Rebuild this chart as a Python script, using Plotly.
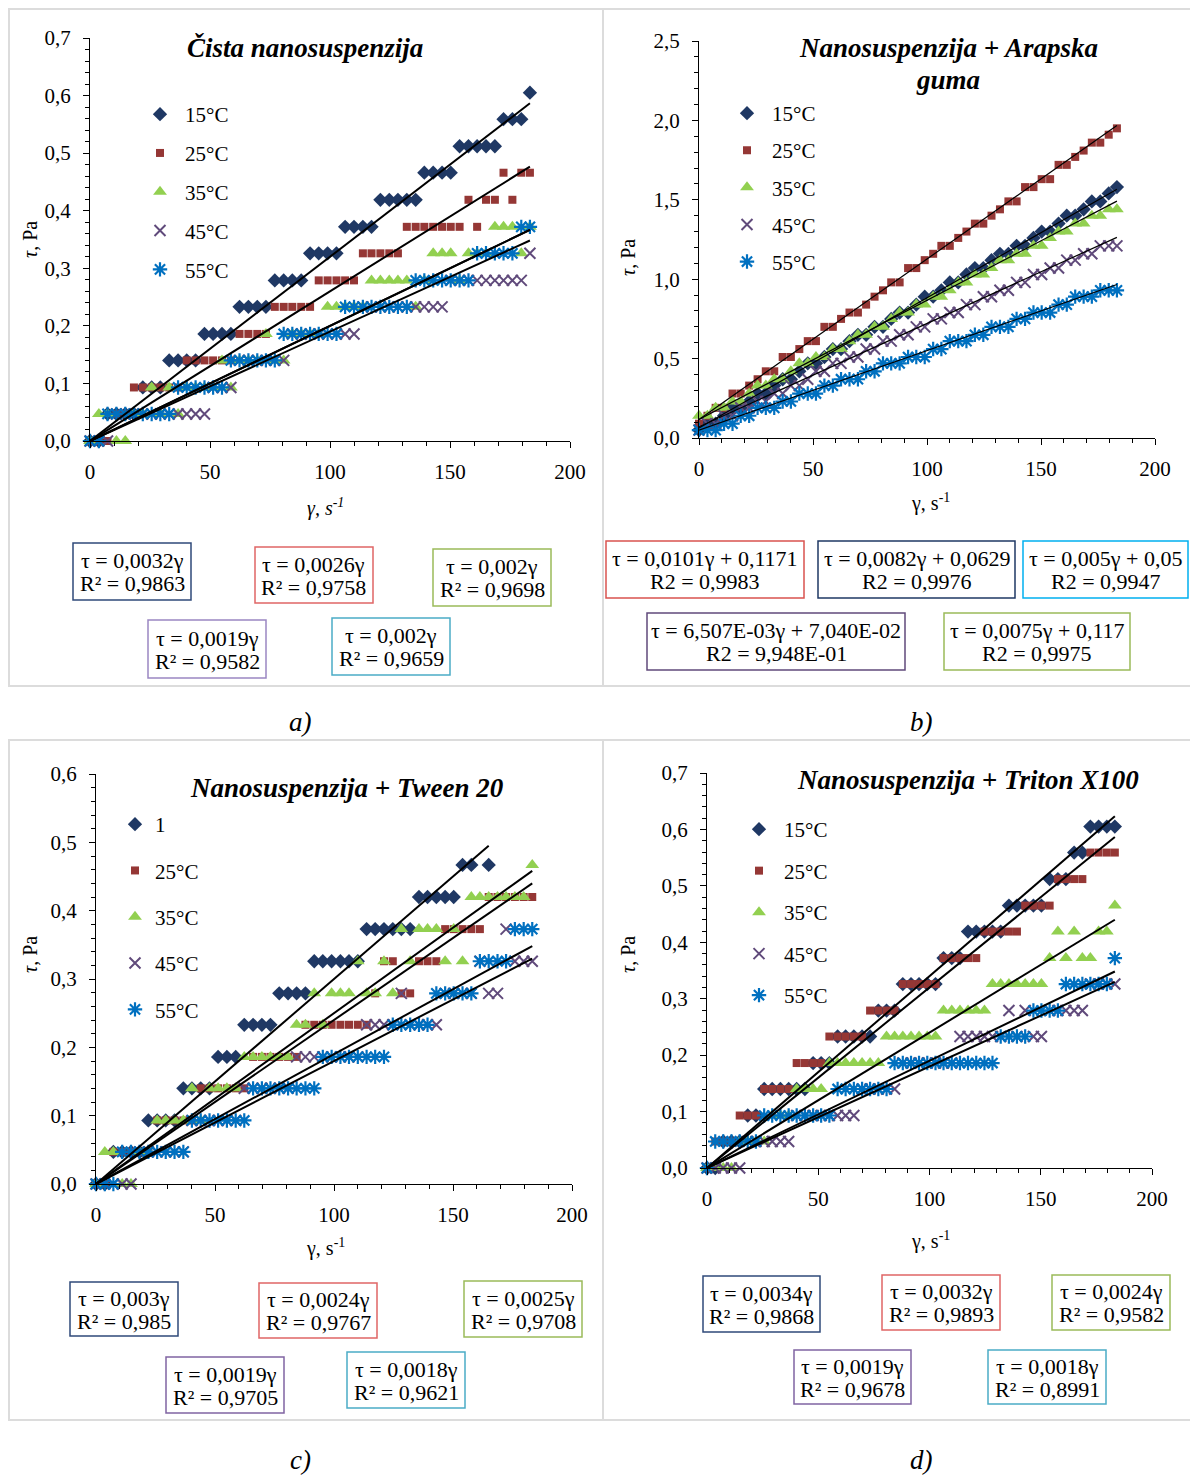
import plotly.graph_objects as go

# the page puts the figure 8px in from the top-left corner
OFF = 8
W, H = 1198 - OFF, 1475 - OFF
FONT = "Liberation Serif"

# shear rate steps, s^-1 (shared by all measurements)
gamma = [0, 3.7, 7.3, 11.0, 14.7, 18.3, 22.0, 25.7, 29.3, 33.0,
         36.7, 40.3, 44.0, 47.7, 51.3, 55.0, 58.7, 62.3, 66.0, 69.7,
         73.3, 77.0, 80.7, 84.3, 88.0, 91.7, 95.3, 99.0, 102.7, 106.3,
         110.0, 113.7, 117.3, 121.0, 124.7, 128.3, 132.0, 135.7, 139.3, 143.0,
         146.7, 150.3, 154.0, 157.7, 161.3, 165.0, 168.7, 172.3, 176.0, 179.7,
         183.3]

temps = ["15°C", "25°C", "35°C", "45°C", "55°C"]

# ---- a) Cista nanosuspenzija, tau in Pa
a_15 = [0, 0, .047, .047, .047, .047, .093, .093, .093, .14,
        .14, .14, .14, .186, .186, .186, .186, .233, .233, .233,
        .233, .279, .279, .279, .279, .326, .326, .326, .326, .372,
        .372, .372, .372, .419, .419, .419, .419, .419, .466, .466,
        .466, .466, .512, .512, .512, .512, .512, .559, .559, .559,
        .605]
a_25 = [0, 0, 0, .047, .047, .093, .093, .093, .093, .093,
        .093, .14, .14, .14, .14, .14, .14, .186, .186, .186,
        .186, .233, .233, .233, .233, .233, .279, .279, .279, .279,
        .279, .326, .326, .326, .326, .326, .372, .372, .372, .372,
        .372, .372, .372, .419, .372, .419, .419, .466, .419, .466,
        .466]
a_35 = [0, .047, .047, 0, 0, .047, .047, .093, .047, .093,
        .047, .093, .093, .093, .093, .14, .093, .14, .14, .14,
        .186, .14, .14, .186, .186, .186, .186, .233, .233, .233,
        .233, .233, .279, .279, .279, .279, .279, .233, .279, .326,
        .326, .326, .279, .326, .326, .326, .372, .372, .372, .326,
        .372]
a_45 = [0, 0, 0, .047, .047, .047, .047, .047, .047, .047,
        .047, .047, .047, .047, .093, .093, .093, .14, .14, .14,
        .14, .14, .14, .186, .186, .186, .186, .186, .186, .186,
        .186, .233, .233, .233, .233, .233, .233, .233, .233, .233,
        .233, .279, .279, .279, .279, .279, .279, .279, .279, .279,
        .326]
a_55 = [0, 0, .047, .047, .047, .047, .047, .047, .047, .047,
        .093, .093, .093, .093, .093, .093, .14, .14, .14, .14,
        .14, .14, .186, .186, .186, .186, .186, .186, .186, .233,
        .233, .233, .233, .233, .233, .233, .233, .279, .279, .279,
        .279, .279, .279, .279, .326, .326, .326, .326, .326, .372,
        .372]
a_slope = [0.0032, 0.0026, 0.002, 0.0019, 0.002]
a_icpt = [0, 0, 0, 0, 0]
a_eq = [("τ = 0,0032γ", "R² = 0,9863"), ("τ = 0,0026γ", "R² = 0,9758"),
        ("τ = 0,002γ", "R² = 0,9698"), ("τ = 0,0019γ", "R² = 0,9582"),
        ("τ = 0,002γ", "R² = 0,9659")]

# ---- b) Nanosuspenzija + Arapska guma
b_15 = [0.05, 0.09, 0.09, 0.14, 0.19, 0.19, 0.23, 0.28, 0.28, 0.33,
        0.37, 0.37, 0.42, 0.47, 0.47, 0.51, 0.56, 0.56, 0.61, 0.65,
        0.65, 0.70, 0.70, 0.75, 0.79, 0.79, 0.84, 0.89, 0.89, 0.93,
        0.98, 0.98, 1.03, 1.07, 1.07, 1.12, 1.16, 1.16, 1.21, 1.21,
        1.26, 1.30, 1.30, 1.35, 1.40, 1.40, 1.44, 1.49, 1.49, 1.54,
        1.58]
b_25 = [0.09, 0.14, 0.19, 0.19, 0.28, 0.28, 0.33, 0.37, 0.42, 0.42,
        0.51, 0.51, 0.56, 0.61, 0.61, 0.70, 0.70, 0.75, 0.79, 0.79,
        0.84, 0.89, 0.93, 0.98, 0.98, 1.07, 1.07, 1.12, 1.16, 1.21,
        1.21, 1.26, 1.30, 1.35, 1.35, 1.40, 1.44, 1.49, 1.49, 1.58,
        1.58, 1.63, 1.63, 1.72, 1.72, 1.77, 1.81, 1.86, 1.86, 1.91,
        1.95]
b_35 = [0.14, 0.14, 0.19, 0.19, 0.23, 0.23, 0.28, 0.33, 0.33, 0.37,
        0.37, 0.42, 0.47, 0.47, 0.51, 0.51, 0.56, 0.56, 0.61, 0.65,
        0.65, 0.70, 0.70, 0.75, 0.79, 0.79, 0.84, 0.84, 0.89, 0.89,
        0.93, 0.98, 0.98, 1.03, 1.03, 1.07, 1.12, 1.12, 1.16, 1.16,
        1.21, 1.21, 1.26, 1.30, 1.30, 1.35, 1.35, 1.40, 1.40, 1.44,
        1.44]
b_45 = [0.05, 0.09, 0.09, 0.14, 0.14, 0.19, 0.19, 0.23, 0.23, 0.28,
        0.28, 0.33, 0.33, 0.37, 0.42, 0.42, 0.47, 0.47, 0.51, 0.51,
        0.56, 0.56, 0.61, 0.61, 0.65, 0.65, 0.70, 0.70, 0.75, 0.75,
        0.79, 0.79, 0.84, 0.84, 0.89, 0.89, 0.93, 0.93, 0.98, 0.98,
        1.03, 1.03, 1.07, 1.07, 1.12, 1.12, 1.16, 1.16, 1.21, 1.21,
        1.21]
b_55 = [0.05, 0.05, 0.05, 0.09, 0.09, 0.14, 0.14, 0.19, 0.19, 0.19,
        0.23, 0.23, 0.28, 0.28, 0.28, 0.33, 0.33, 0.37, 0.37, 0.37,
        0.42, 0.42, 0.47, 0.47, 0.47, 0.51, 0.51, 0.51, 0.56, 0.56,
        0.61, 0.61, 0.61, 0.65, 0.65, 0.70, 0.70, 0.70, 0.75, 0.75,
        0.79, 0.79, 0.79, 0.84, 0.84, 0.89, 0.89, 0.89, 0.93, 0.93,
        0.93]
b_slope = [0.0082, 0.0101, 0.0075, 0.006507, 0.005]
b_icpt = [0.0629, 0.1171, 0.117, 0.0704, 0.05]
b_eq = [("τ = 0,0082γ + 0,0629", "R2 = 0,9976"), ("τ = 0,0101γ + 0,1171", "R2 = 0,9983"),
        ("τ = 0,0075γ + 0,117", "R2 = 0,9975"), ("τ = 6,507E-03γ + 7,040E-02", "R2 = 9,948E-01"),
        ("τ = 0,005γ + 0,05", "R2 = 0,9947")]

# ---- c) Nanosuspenzija + Tween 20
c_15 = [0, 0, .047, .047, .047, .047, .093, .093, .093, .093,
        .14, .14, .14, .14, .186, .186, .186, .233, .233, .233,
        .233, .279, .279, .279, .279, .326, .326, .326, .326, .326,
        .326, .373, .373, .373, .373, .373, .373, .42, .42, .42,
        .42, .42, .467, .467, None, .467]
c_25 = [0, 0, .047, .047, .047, .047, .047, .093, .093, .093,
        .093, .093, .14, .14, .14, .14, .14, .14, .186, .186,
        .186, .186, .186, .186, .233, .233, .233, .233, .233, .233,
        .233, .233, .279, .326, .326, .279, .279, .326, .326, .326,
        .373, .373, .373, .373, .373, .42, .42, .42, .42, .42,
        .42]
c_35 = [0, .047, .047, 0, 0, .047, .047, .093, .093, .093,
        .093, .14, .093, .14, .14, .14, .14, .186, .186, .186,
        .186, .186, .186, .233, .233, .279, .233, .279, .279, .279,
        .326, .279, .279, .326, .279, .373, .326, .373, .373, .373,
        .326, .373, .326, .42, .42, .42, .42, .42, .42, .42,
        .467]
c_45 = [0, 0, 0, 0, 0, .047, .047, .047, .047, .047,
        .047, .093, .093, .093, .093, .093, .093, .14, .14, .14,
        .14, .14, .14, .186, .186, .186, .186, .186, .186, .186,
        .186, .233, .233, .233, .233, .279, .233, .233, .233, .233,
        .279, .279, .279, .279, .326, .279, .279, .373, .326, .326,
        .326]
c_55 = [0, 0, 0, .047, .047, .047, .047, .047, .047, .047,
        .047, .093, .093, .093, .093, .093, .093, .093, .14, .14,
        .14, .14, .14, .14, .14, .14, .186, .186, .186, .186,
        .186, .186, .186, .186, .233, .233, .233, .233, .233, .279,
        .279, .279, .279, .279, .326, .326, .326, .326, .373, .373,
        .373]
c_slope = [0.003, 0.0024, 0.0025, 0.0019, 0.0018]
c_icpt = [0, 0, 0, 0, 0]
c_eq = [("τ = 0,003γ", "R² = 0,985"), ("τ = 0,0024γ", "R² = 0,9767"),
        ("τ = 0,0025γ", "R² = 0,9708"), ("τ = 0,0019γ", "R² = 0,9705"),
        ("τ = 0,0018γ", "R² = 0,9621")]

# ---- d) Nanosuspenzija + Triton X100
d_15 = [0, 0, .047, .047, .047, .093, .093, .14, .14, .14,
        .14, .14, .14, .186, .186, .186, .233, .233, .233, .233,
        .233, .279, .279, .279, .326, .326, .326, .326, .326, .372,
        .372, .372, .419, .419, .419, .419, .419, .465, .465, .465,
        .465, .465, .512, .512, .512, .559, .559, .605, .605, .605,
        .605]
d_25 = [0, .047, .047, .047, .093, .093, .093, .14, .14, .14,
        .14, .186, .186, .186, .186, .233, .233, .233, .233, .233,
        .279, .279, .279, .279, .326, .326, .326, .326, .326, .372,
        .372, .372, .372, .372, .419, .419, .419, .419, .419, .465,
        .465, .465, .465, .512, .512, .512, .512, .559, .559, .559,
        .559]
d_35 = [0, 0, 0, 0, .047, .047, .047, .047, .093, .093,
        .093, .14, .14, .14, .14, .186, .186, .186, .186, .186,
        .186, .186, .233, .233, .233, .233, .233, .233, .233, .279,
        .279, .279, .279, .279, .279, .326, .326, .326, .326, .326,
        .326, .326, .372, .419, .372, .419, .372, .372, .419, .419,
        .465]
d_45 = [0, 0, 0, 0, 0, .047, .047, .047, .047, .047,
        .047, .093, .093, .093, .093, .093, .093, .093, .093, .14,
        .14, .14, .14, .14, .186, .186, .186, .186, .186, .186,
        .186, .233, .233, .233, .233, .233, .233, .279, .233, .279,
        .233, .233, .279, .279, .279, .279, .279, .326, .326, .326,
        .326]
d_55 = [0, .047, .047, .047, .047, .047, .047, .093, .093, .093,
        .093, .093, .093, .093, .093, .093, .14, .14, .14, .14,
        .14, .14, .14, .186, .186, .186, .186, .186, .186, .186,
        .186, .186, .186, .186, .186, .186, .233, .233, .233, .233,
        .279, .279, .279, .279, .326, .326, .326, .326, .326, .326,
        .372]
d_slope = [0.0034, 0.0032, 0.0024, 0.0019, 0.0018]
d_icpt = [0, 0, 0, 0, 0]
d_eq = [("τ = 0,0034γ", "R² = 0,9868"), ("τ = 0,0032γ", "R² = 0,9893"),
        ("τ = 0,0024γ", "R² = 0,9582"), ("τ = 0,0019γ", "R² = 0,9678"),
        ("τ = 0,0018γ", "R² = 0,8991")]


def fx(x):
    return (x - OFF) / W


def fy(y):
    return 1 - (y - OFF) / H


# marker look per temperature (15, 25, 35, 45, 55 °C)
styles = [
    dict(symbol="diamond", color="#1f3864", size=11, lw=0),
    dict(symbol="square", color="#953735", size=8, lw=0),
    dict(symbol="triangle-up", color="#92d050", size=12, lw=0),
    dict(symbol="x-thin-open", color="#604a7b", size=11, lw=2),
    dict(symbol="asterisk-open", color="#0070c0", size=12, lw=2.2),
]

# equation boxes given as (x0, y0, x1, y1) in page pixels, in series order 15..55
panels = [
    dict(data=[a_15, a_25, a_35, a_45, a_55], m=a_slope, b=a_icpt, eq=a_eq,
         names=temps, ymax=0.7, ydt=0.1, ymin=0.02,
         px=(90, 570), py=(441, 38), lw=2,
         title=[("Čista nanosuspenzija", 305, 48)],
         xtitle="<i>γ, s<sup>-1</sup></i>", xt=(325, 508), yt=(30, 240),
         leg=(160, 111, 38.5), iw=40,
         boxes=[(73, 543, 191, 600), (255, 547, 373, 603), (433, 549, 551, 606),
                (148, 620, 266, 678), (332, 618, 450, 675)],
         bcol=["#2f4a7a", "#e06666", "#9bbb59", "#9b86c2", "#4bacc6"],
         cap=("a)", 300, 722)),
    dict(data=[b_15, b_25, b_35, b_45, b_55], m=b_slope, b=b_icpt, eq=b_eq,
         names=temps, ymax=2.5, ydt=0.5, ymin=0.1,
         px=(699, 1155), py=(438, 41), lw=1.2,
         title=[("Nanosuspenzija + Arapska", 948, 48), ("guma", 948, 80)],
         xtitle="γ, s<sup>-1</sup>", xt=(930, 502), yt=(628, 258),
         leg=(747, 110, 36.8), iw=40,
         boxes=[(818, 541, 1015, 598), (606, 541, 804, 598), (944, 613, 1130, 670),
                (647, 613, 905, 670), (1023, 541, 1188, 598)],
         bcol=["#1f3864", "#d9534f", "#9bbb59", "#604a7b", "#00b0f0"],
         cap=("b)", 921, 722)),
    dict(data=[c_15, c_25, c_35, c_45, c_55], m=c_slope, b=c_icpt, eq=c_eq,
         names=["1", "25°C", "35°C", "45°C", "55°C"], ymax=0.6, ydt=0.1, ymin=0.02,
         px=(96, 572), py=(1184, 774), lw=2,
         title=[("Nanosuspenzija + Tween 20", 347, 788)],
         xtitle="γ, s<sup>-1</sup>", xt=(325, 1247), yt=(30, 955),
         leg=(140, 821, 46), iw=30,
         boxes=[(70, 1282, 178, 1336), (259, 1283, 377, 1338), (464, 1281, 582, 1337),
                (166, 1357, 284, 1413), (347, 1352, 465, 1408)],
         bcol=["#2f4a7a", "#e06666", "#9bbb59", "#8064a2", "#4bacc6"],
         cap=("c)", 300, 1460)),
    dict(data=[d_15, d_25, d_35, d_45, d_55], m=d_slope, b=d_icpt, eq=d_eq,
         names=temps, ymax=0.7, ydt=0.1, ymin=0.02,
         px=(707, 1152), py=(1168, 773), lw=2,
         title=[("Nanosuspenzija + Triton X100", 968, 780)],
         xtitle="γ, s<sup>-1</sup>", xt=(930, 1240), yt=(628, 955),
         leg=(759, 826, 41.2), iw=40,
         boxes=[(703, 1276, 820, 1332), (882, 1275, 1000, 1330), (1052, 1275, 1170, 1330),
                (794, 1350, 911, 1404), (988, 1350, 1106, 1404)],
         bcol=["#2f4a7a", "#e06666", "#9bbb59", "#8064a2", "#4bacc6"],
         cap=("d)", 921, 1460)),
]

fig = go.Figure()
layout = dict(width=W, height=H, margin=dict(l=0, r=0, t=0, b=0, pad=0, autoexpand=False),
              paper_bgcolor="white", plot_bgcolor="white",
              separators=", ", showlegend=True,
              font=dict(family=FONT, size=20, color="black"))
annotations = []
shapes = []


def note(text, x, y, size, **kw):
    d = dict(text=text, x=fx(x), y=fy(y), xref="paper", yref="paper",
             xanchor="center", yanchor="middle", showarrow=False,
             font=dict(family=FONT, size=size, color="black"))
    d.update(kw)
    annotations.append(d)


def rect(x0, y0, x1, y1, color, width, fill=None):
    s = dict(type="rect", xref="paper", yref="paper",
             x0=fx(x0), x1=fx(x1), y0=fy(y1), y1=fy(y0),
             line=dict(color=color, width=width))
    if fill:
        s["fillcolor"] = fill
    shapes.append(s)


# panel frames
for x0, y0, x1, y1 in [(9, 9, 603, 686), (603, 9, 1196, 686),
                       (9, 740, 603, 1420), (603, 740, 1196, 1420)]:
    rect(x0, y0, x1, y1, "#dcdcdc", 2)

for p, P in enumerate(panels):
    n = "" if p == 0 else str(p + 1)
    xa, ya, leg = "x" + n, "y" + n, "legend" + n
    for k in range(5):
        ys = P["data"][k]
        st = styles[k]
        fig.add_trace(go.Scatter(
            x=gamma[:len(ys)], y=ys, mode="markers", name=P["names"][k],
            xaxis=xa, yaxis=ya, legend=leg, legendgroup=f"{p}-{k}",
            cliponaxis=False,
            marker=dict(symbol=st["symbol"], size=st["size"], color=st["color"],
                        line=dict(width=st["lw"], color=st["color"]))))
    for k in range(5):
        ys = P["data"][k]
        xmax = max(x for x, y in zip(gamma, ys) if y is not None)
        xl = [0, xmax]
        fig.add_trace(go.Scatter(
            x=xl, y=[P["b"][k] + P["m"][k] * v for v in xl], mode="lines",
            line=dict(color="black", width=P["lw"]), showlegend=False,
            hoverinfo="skip", xaxis=xa, yaxis=ya, cliponaxis=False))

    tickfont = dict(family=FONT, size=21, color="black")
    layout["xaxis" + n] = dict(
        domain=[fx(P["px"][0]), fx(P["px"][1])], anchor=ya, range=[0, 200],
        tick0=0, dtick=50, ticks="outside", ticklen=6, tickcolor="black",
        minor=dict(dtick=10, ticks="outside", ticklen=4, tickcolor="black"),
        showline=True, linecolor="black", linewidth=1, showgrid=False,
        zeroline=False, tickfont=tickfont, ticklabelstandoff=6, automargin=False)
    layout["yaxis" + n] = dict(
        domain=[fy(P["py"][0]), fy(P["py"][1])], anchor=xa, range=[0, P["ymax"]],
        tick0=0, dtick=P["ydt"], tickformat=".1f", ticks="outside", ticklen=6,
        tickcolor="black",
        minor=dict(dtick=P["ymin"], ticks="outside", ticklen=4, tickcolor="black"),
        showline=True, linecolor="black", linewidth=1, showgrid=False,
        zeroline=False, tickfont=tickfont, ticklabelstandoff=8, automargin=False)

    lx, ly, gap = P["leg"]
    layout[leg] = dict(x=fx(lx - 25), y=fy(ly - 17), xanchor="left", yanchor="top",
                       bgcolor="rgba(0,0,0,0)", borderwidth=0,
                       font=dict(family=FONT, size=21, color="black"),
                       tracegroupgap=gap - 30, itemsizing="trace", itemwidth=P["iw"])

    for txt, tx, ty in P["title"]:
        note(f"<b><i>{txt}</i></b>", tx, ty, 27)
    note(P["xtitle"], P["xt"][0], P["xt"][1], 20)
    note("<i>τ</i>, Pa", P["yt"][0], P["yt"][1], 20, textangle=-90)
    for k in range(5):
        x0, y0, x1, y1 = P["boxes"][k]
        rect(x0, y0, x1, y1, P["bcol"][k], 1.5, fill="white")
        cx, cy = (x0 + x1) / 2, (y0 + y1) / 2
        note(P["eq"][k][0], cx, cy - 11, 22)
        note(P["eq"][k][1], cx, cy + 12, 22)
    ct, cx, cy = P["cap"]
    note(f"<i>{ct}</i>", cx, cy, 27)

layout["annotations"] = annotations
layout["shapes"] = shapes
fig.update_layout(**layout)

fig.write_html("out.html")
